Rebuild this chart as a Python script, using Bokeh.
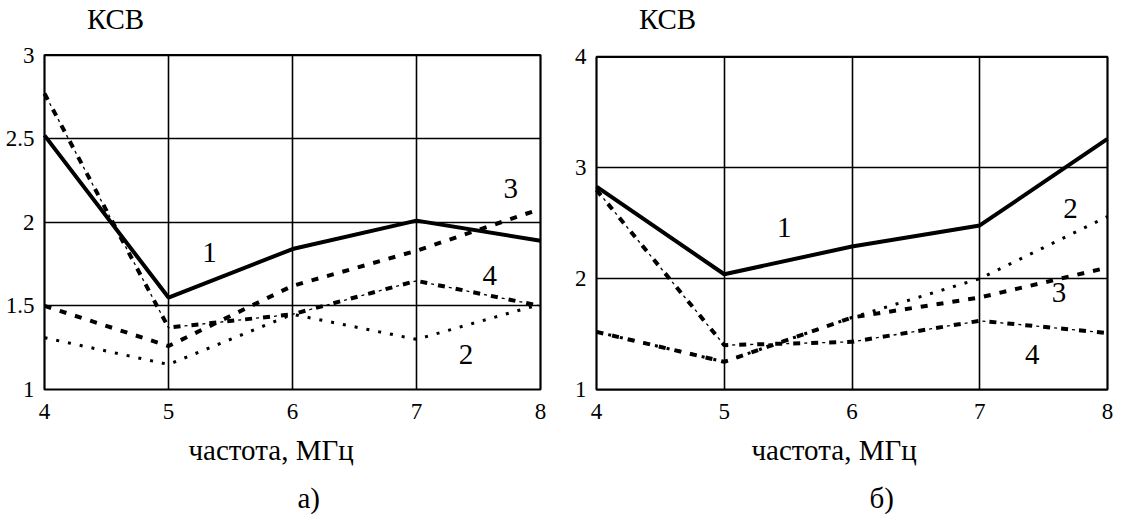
from bokeh.plotting import figure
from bokeh.models import FixedTicker, Label, Title, BoxAnnotation
from bokeh.layouts import row
from bokeh.embed import file_html
from bokeh.resources import INLINE

# ---- data ----
freq = [4, 5, 6, 7, 8]
x_ticks = [4, 5, 6, 7, 8]
y_ticks_a = [1, 1.5, 2, 2.5, 3]
y_ticks_b = [1, 2, 3, 4]

# panel a)
a1 = [2.52, 1.55, 1.84, 2.01, 1.89]
a2 = [1.31, 1.15, 1.45, 1.30, 1.51]
a3 = [1.50, 1.26, 1.62, 1.83, 2.08]
a4 = [2.77, 1.37, 1.45, 1.65, 1.50]

# panel б)
b1 = [2.83, 2.04, 2.29, 2.48, 3.26]
b2 = [1.52, 1.25, 1.65, 2.00, 2.56]
b3 = [1.52, 1.25, 1.65, 1.83, 2.10]
b4 = [2.80, 1.40, 1.43, 1.62, 1.51]

FONT = "Liberation Serif"
TICK_SIZE = "23px"
TEXT_SIZE = "29px"
H = 517
PAD = 3  # px of frame kept around the drawn box so its border is not clipped


def make_fig(width, ylo, yhi, yticks, ytick_labels, box_left, box_w,
             pad_top, box_h):
    xlo, xhi = 4, 8
    dx = PAD * (xhi - xlo) / box_w
    dy = (yhi - ylo) / box_h
    y_top = yhi + pad_top * dy
    y_bot = ylo - PAD * dy
    frame_h = pad_top + box_h + PAD
    bl = box_left - PAD
    br = width - bl - (box_w + 2 * PAD)
    p = figure(width=width, height=H, x_range=(xlo - dx, xhi + dx),
               y_range=(y_bot, y_top),
               output_backend="svg", toolbar_location=None,
               min_border_left=bl, min_border_right=br,
               min_border_top=0, min_border_bottom=H - frame_h)
    p.outline_line_color = None
    p.background_fill_color = "white"
    p.border_fill_color = "white"
    p.xaxis.ticker = FixedTicker(ticks=x_ticks)
    p.yaxis.ticker = FixedTicker(ticks=yticks)
    p.yaxis.major_label_overrides = ytick_labels
    for ax in (p.xaxis, p.yaxis):
        ax.axis_line_color = None
        ax.major_tick_line_color = None
        ax.minor_tick_line_color = None
        ax.major_label_text_font = FONT
        ax.major_label_text_font_size = TICK_SIZE
        ax.major_label_text_font_style = "normal"
        ax.major_label_text_color = "black"
    p.xaxis.major_label_standoff = 5
    p.yaxis.major_label_standoff = 1
    for g in (p.xgrid, p.ygrid):
        g.grid_line_color = "black"
        g.grid_line_alpha = 1
        g.grid_line_width = 1.6
    p.xgrid.ticker = FixedTicker(ticks=x_ticks[1:-1])
    p.ygrid.ticker = FixedTicker(ticks=yticks[1:-1])
    p.xgrid.cross_bounds = (ylo, yhi)
    p.ygrid.cross_bounds = (xlo, xhi)
    p.add_layout(BoxAnnotation(left=xlo, right=xhi, bottom=ylo, top=yhi,
                               fill_color=None, fill_alpha=0,
                               line_color="black", line_width=2.2,
                               line_alpha=1))
    return p


def draw_series(p, s1, s2, s3, s4):
    # 1: solid
    p.line(freq, s1, line_color="black", line_width=4)
    # 2: dotted
    p.line(freq, s2, line_color="black", line_width=3, line_dash="3 9")
    # 3: dashed
    p.line(freq, s3, line_color="black", line_width=4, line_dash="7 9")
    # 4: dash-dot (thick dash + thin tick)
    p.line(freq, s4, line_color="black", line_width=4, line_dash="7 11")
    p.line(freq, s4, line_color="black", line_width=1.3, line_dash="3 15",
           line_dash_offset=7)


def add_text(p, x, y, txt):
    p.add_layout(Label(x=x, y=y, text=txt, text_font=FONT,
                       text_font_size=TEXT_SIZE, text_align="center",
                       text_baseline="middle", text_color="black"))


def add_title(p, txt, offset, standoff):
    p.add_layout(Title(text=txt, align="left", offset=offset,
                       standoff=standoff, text_font=FONT,
                       text_font_size=TEXT_SIZE, text_font_style="normal",
                       text_color="black"), "below")


# ---- panel a) ----
p1 = make_fig(556, 1, 3, y_ticks_a,
              {1: "1", 1.5: "1.5", 2: "2", 2.5: "2.5", 3: "3"},
              44, 496, 55, 337)
draw_series(p1, a1, a2, a3, a4)
add_text(p1, 5.33, 1.82, "1")
add_text(p1, 7.40, 1.21, "2")
add_text(p1, 7.76, 2.20, "3")
add_text(p1, 7.59, 1.68, "4")
add_text(p1, 4.573, 3.214, "КСВ")
add_title(p1, "частота, МГц", 147, 20)
add_title(p1, "а)", 256, 8)

# ---- panel б) ----
p2 = make_fig(557, 1, 4, y_ticks_b,
              {1: "1", 2: "2", 3: "3", 4: "4"},
              40, 511, 57, 336)
draw_series(p2, b1, b2, b3, b4)
add_text(p2, 5.47, 2.46, "1")
add_text(p2, 7.71, 2.63, "2")
add_text(p2, 7.62, 1.875, "3")
add_text(p2, 7.41, 1.32, "4")
add_text(p2, 4.556, 4.339, "КСВ")
add_title(p2, "частота, МГц", 158, 20)
add_title(p2, "б)", 276, 8)

layout = row(p1, p2)
open("out.html", "w").write(file_html(layout, INLINE))
